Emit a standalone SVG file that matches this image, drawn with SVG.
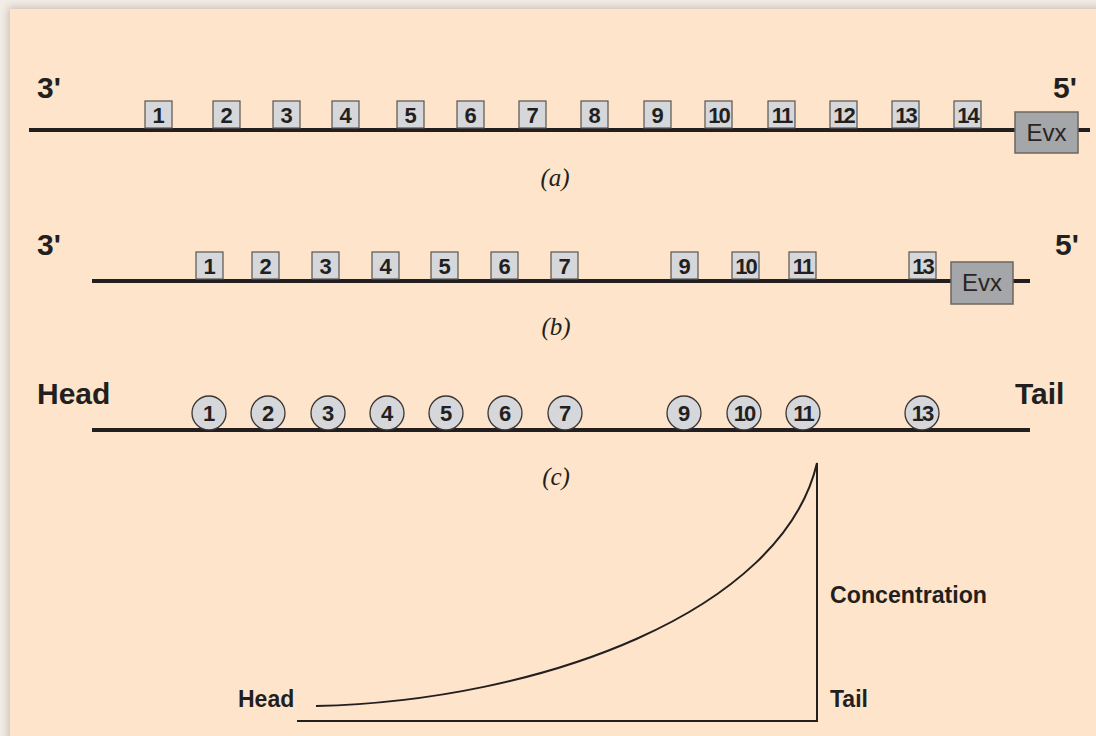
<svg xmlns="http://www.w3.org/2000/svg" width="1096" height="736" viewBox="0 0 1096 736">
<defs>
<style>
.line{stroke:#231f20;stroke-width:4;fill:none}
.box{fill:#d5d7db;stroke:#5a5550;stroke-width:1.2}
.evx{fill:#a4a6a9;stroke:#6e665e;stroke-width:1.5}
.circ{fill:#d5d7db;stroke:#3a3532;stroke-width:1.3}
.num{font-family:"Liberation Sans",Arial,sans-serif;font-weight:bold;font-size:22px;fill:#231f20;text-anchor:middle}
.lab{font-family:"Liberation Sans",Arial,sans-serif;font-weight:bold;font-size:30px;fill:#231f20}
.sm{font-family:"Liberation Sans",Arial,sans-serif;font-weight:bold;font-size:23px;fill:#231f20}
.cap{font-family:"Liberation Serif","Times New Roman",serif;font-style:italic;font-size:25px;fill:#231f20;text-anchor:middle}
.ev{font-family:"Liberation Sans",Arial,sans-serif;font-size:24px;fill:#2a2522;text-anchor:middle}
.thin{stroke:#231f20;stroke-width:2;fill:none}
</style>
<filter id="sh" x="-5%" y="-5%" width="110%" height="110%">
<feGaussianBlur stdDeviation="4"/>
</filter>
</defs>
<rect x="0" y="0" width="1096" height="736" fill="#f3ede7"/>
<rect x="8" y="7" width="1100" height="740" fill="#c9bfb5" filter="url(#sh)"/>
<rect x="10" y="9" width="1090" height="735" fill="#fde4ca"/>

<g id="connectors">
<line class="line" x1="29" y1="130" x2="1090" y2="130"/>
<line class="line" x1="92" y1="281" x2="1030" y2="281"/>
<line class="line" x1="92" y1="430" x2="1030" y2="430"/>
<path class="thin" d="M316,706 C540,701 782,612 817,463 L817,721 L297,721"/>
</g>

<g id="row-a">
<text class="lab" x="37" y="98">3'</text>
<text class="lab" x="1053" y="98">5'</text>
<g id="a1"><rect class="box" x="145" y="101" width="27" height="27"/><text class="num" x="158.5" y="123">1</text></g>
<g id="a2"><rect class="box" x="213" y="101" width="27" height="27"/><text class="num" x="226.5" y="123">2</text></g>
<g id="a3"><rect class="box" x="273" y="101" width="27" height="27"/><text class="num" x="286.5" y="123">3</text></g>
<g id="a4"><rect class="box" x="332" y="101" width="27" height="27"/><text class="num" x="345.5" y="123">4</text></g>
<g id="a5"><rect class="box" x="397" y="101" width="27" height="27"/><text class="num" x="410.5" y="123">5</text></g>
<g id="a6"><rect class="box" x="457" y="101" width="27" height="27"/><text class="num" x="470.5" y="123">6</text></g>
<g id="a7"><rect class="box" x="519" y="101" width="27" height="27"/><text class="num" x="532.5" y="123">7</text></g>
<g id="a8"><rect class="box" x="581" y="101" width="27" height="27"/><text class="num" x="594.5" y="123">8</text></g>
<g id="a9"><rect class="box" x="644" y="101" width="27" height="27"/><text class="num" x="657.5" y="123">9</text></g>
<g id="a10"><rect class="box" x="705" y="101" width="27" height="27"/><text class="num" x="718.5" y="123" letter-spacing="-2">10</text></g>
<g id="a11"><rect class="box" x="768" y="101" width="27" height="27"/><text class="num" x="781.5" y="123" letter-spacing="-2">11</text></g>
<g id="a12"><rect class="box" x="830" y="101" width="27" height="27"/><text class="num" x="843.5" y="123" letter-spacing="-2">12</text></g>
<g id="a13"><rect class="box" x="892" y="101" width="27" height="27"/><text class="num" x="905.5" y="123" letter-spacing="-2">13</text></g>
<g id="a14"><rect class="box" x="954" y="101" width="27" height="27"/><text class="num" x="967.5" y="123" letter-spacing="-2">14</text></g>
<g id="a-evx"><rect class="evx" x="1015" y="112" width="63" height="41"/><text class="ev" x="1046.5" y="141">Evx</text></g>
<text class="cap" x="555" y="186">(a)</text>
</g>

<g id="row-b">
<text class="lab" x="37" y="255">3'</text>
<text class="lab" x="1055" y="255">5'</text>
<g id="b1"><rect class="box" x="196" y="252" width="27" height="27"/><text class="num" x="209.5" y="274">1</text></g>
<g id="b2"><rect class="box" x="252" y="252" width="27" height="27"/><text class="num" x="265.5" y="274">2</text></g>
<g id="b3"><rect class="box" x="312" y="252" width="27" height="27"/><text class="num" x="325.5" y="274">3</text></g>
<g id="b4"><rect class="box" x="372" y="252" width="27" height="27"/><text class="num" x="385.5" y="274">4</text></g>
<g id="b5"><rect class="box" x="431" y="252" width="27" height="27"/><text class="num" x="444.5" y="274">5</text></g>
<g id="b6"><rect class="box" x="491" y="252" width="27" height="27"/><text class="num" x="504.5" y="274">6</text></g>
<g id="b7"><rect class="box" x="551" y="252" width="27" height="27"/><text class="num" x="564.5" y="274">7</text></g>
<g id="b9"><rect class="box" x="671" y="252" width="27" height="27"/><text class="num" x="684.5" y="274">9</text></g>
<g id="b10"><rect class="box" x="732" y="252" width="27" height="27"/><text class="num" x="745.5" y="274" letter-spacing="-2">10</text></g>
<g id="b11"><rect class="box" x="789" y="252" width="27" height="27"/><text class="num" x="802.5" y="274" letter-spacing="-2">11</text></g>
<g id="b13"><rect class="box" x="909" y="252" width="27" height="27"/><text class="num" x="922.5" y="274" letter-spacing="-2">13</text></g>
<g id="b-evx"><rect class="evx" x="951" y="262" width="62" height="42"/><text class="ev" x="982" y="291">Evx</text></g>
<text class="cap" x="556" y="335">(b)</text>
</g>

<g id="row-c">
<text class="lab" x="37" y="404">Head</text>
<text class="lab" x="1015" y="404">Tail</text>
<g id="c1"><circle class="circ" cx="209" cy="413" r="17"/><text class="num" x="209" y="421">1</text></g>
<g id="c2"><circle class="circ" cx="268" cy="413" r="17"/><text class="num" x="268" y="421">2</text></g>
<g id="c3"><circle class="circ" cx="328" cy="413" r="17"/><text class="num" x="328" y="421">3</text></g>
<g id="c4"><circle class="circ" cx="387" cy="413" r="17"/><text class="num" x="387" y="421">4</text></g>
<g id="c5"><circle class="circ" cx="446" cy="413" r="17"/><text class="num" x="446" y="421">5</text></g>
<g id="c6"><circle class="circ" cx="505" cy="413" r="17"/><text class="num" x="505" y="421">6</text></g>
<g id="c7"><circle class="circ" cx="565" cy="413" r="17"/><text class="num" x="565" y="421">7</text></g>
<g id="c9"><circle class="circ" cx="684" cy="413" r="17"/><text class="num" x="684" y="421">9</text></g>
<g id="c10"><circle class="circ" cx="744" cy="413" r="17"/><text class="num" x="744" y="421" letter-spacing="-2">10</text></g>
<g id="c11"><circle class="circ" cx="803" cy="413" r="17"/><text class="num" x="803" y="421" letter-spacing="-2">11</text></g>
<g id="c13"><circle class="circ" cx="922" cy="413" r="17"/><text class="num" x="922" y="421" letter-spacing="-2">13</text></g>
<text class="cap" x="556" y="485">(c)</text>
</g>

<g id="graph">
<text class="sm" x="238" y="707">Head</text>
<text class="sm" x="830" y="603" textLength="157" lengthAdjust="spacingAndGlyphs">Concentration</text>
<text class="sm" x="830" y="707">Tail</text>
</g>
</svg>
